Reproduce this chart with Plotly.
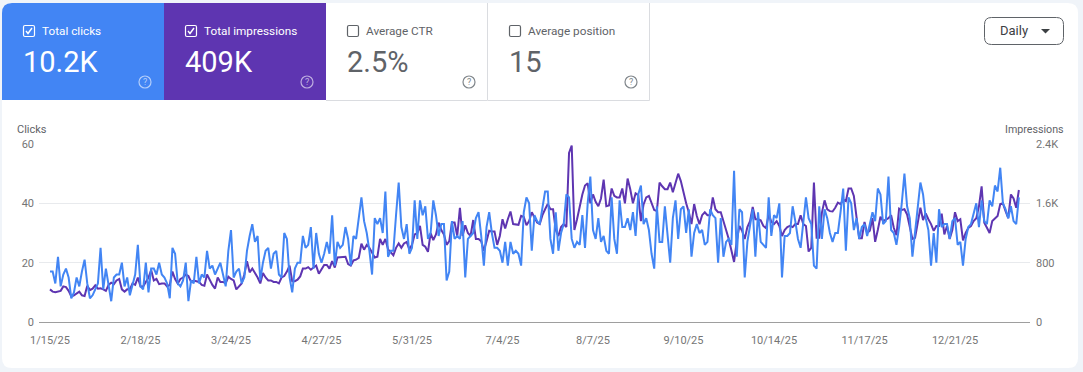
import pandas as pd
import plotly.graph_objects as go

W, H = 1083, 372
M = 30

clicks = [
 17,17,13,22,12,16,18,15,8,10,
 15,12,17,21,13,8,9,11,13,25,
 11,18,12,7,15,16,16,20,12,15,
 9,13,16,26,12,11,20,10,18,18,
 16,20,16,15,13,8,25,23,13,12,
 14,20,7,14,13,22,13,16,15,24,
 18,19,16,18,20,16,12,24,31,15,
 17,18,13,15,24,29,33,27,29,14,
 20,24,25,18,23,24,16,15,30,28,
 15,10,18,20,20,29,25,26,32,18,
 30,23,20,23,27,23,36,19,27,25,
 26,32,28,19,29,28,36,42,34,30,
 24,16,35,33,35,30,44,22,24,24,
 36,47,32,28,33,23,25,41,28,41,
 36,39,28,30,41,36,29,33,33,14,
 17,34,28,29,28,34,15,28,29,30,
 35,37,29,19,32,37,30,25,25,24,
 20,27,19,27,23,24,23,19,37,42,
 40,24,36,34,33,38,44,44,28,23,
 37,24,30,33,43,42,28,25,27,26,
 36,25,40,49,31,28,35,27,29,24,
 23,42,28,23,41,32,32,35,31,37,
 29,43,46,33,35,31,23,18,39,27,
 27,39,29,20,35,41,28,38,39,30,
 38,22,30,33,30,31,26,27,38,36,
 35,20,35,22,27,28,26,51,22,38,
 37,15,27,33,38,22,37,27,26,25,
 42,29,36,35,40,15,29,29,30,39,
 34,28,25,33,42,35,33,19,18,39,
 28,38,35,30,27,30,30,37,45,24,
 42,40,31,35,28,32,33,29,33,37,
 34,45,43,33,34,49,31,30,26,32,
 40,50,39,35,22,31,40,47,43,35,
 31,19,30,20,38,32,33,33,28,34,
 35,26,27,19,28,32,33,37,40,32,
 41,34,33,41,39,46,44,52,40,38,
 35,39,34,33,42,
]

impressions = [
 440,410,400,405,420,480,470,420,345,360,
 385,410,360,350,490,430,450,495,450,455,
 440,420,500,530,510,560,580,440,410,440,
 440,520,500,600,480,480,540,600,700,560,
 580,510,520,520,480,500,680,580,520,580,
 600,640,620,540,560,550,540,500,490,640,
 560,500,450,600,540,540,520,610,580,560,
 440,480,520,640,820,670,720,660,600,520,
 660,600,560,560,540,540,520,600,620,680,
 760,550,550,570,615,720,720,740,705,735,
 760,650,720,770,770,720,820,735,870,870,
 870,880,780,760,830,840,865,1055,975,1040,
 1000,935,870,880,1120,1040,1120,980,935,900,
 1000,1060,1000,1060,1080,980,1040,1180,1200,1295,
 1040,1015,945,1200,1105,1180,1340,1240,1180,1040,
 1090,1340,1340,1160,1540,1160,1305,1200,1160,1375,
 1120,1120,1090,960,1090,1230,1220,1220,1040,1160,
 1385,1260,1385,1490,1320,1310,1310,1430,1415,1305,
 1360,1480,1400,1340,1320,1440,1520,1590,1520,1520,
 1240,1160,1280,1320,1280,2280,2380,1240,1385,1560,
 1720,1840,1870,1600,1720,1620,1560,1665,1920,1560,
 1570,1800,1700,1680,1680,1800,1600,1935,1790,1600,
 1735,1710,1360,1585,1680,1700,1600,1510,1495,1880,
 1830,1790,1790,1880,1750,1880,2000,1900,1745,1600,
 1480,1320,1590,1430,1320,1440,1480,1440,1440,1680,
 1520,1480,1480,1340,1240,1120,980,810,1090,1295,
 1230,1120,1280,1360,1550,1385,1385,1370,1295,1265,
 1450,1350,1320,1360,1295,1160,1240,1280,1295,1280,
 1320,1320,1440,1320,1295,950,1000,1880,1135,1135,
 1475,1640,1520,1495,1490,1540,1610,1590,1650,1630,
 1800,1800,1700,1450,1130,1130,1350,1200,1230,1400,
 1080,1240,1420,1360,1380,1400,1440,1270,1170,1530,
 1510,1520,1450,1300,1120,1135,1360,1540,1375,1465,
 1385,1320,1230,1295,1295,1460,1180,1295,1120,1240,
 1480,1360,1385,1100,1200,1270,1295,1360,1400,1560,
 1830,1340,1270,1200,1360,1400,1430,1590,1600,1495,
 1400,1720,1665,1540,1780,
]

dates = pd.date_range("2025-01-15", periods=len(clicks))

x_tick_dates = ["2025-01-15","2025-02-18","2025-03-24","2025-04-27","2025-05-31","2025-07-04",
                "2025-08-07","2025-09-10","2025-10-14","2025-11-17","2025-12-21"]
x_tick_labels = ["1/15/25","2/18/25","3/24/25","4/27/25","5/31/25","7/4/25",
                 "8/7/25","9/10/25","10/14/25","11/17/25","12/21/25"]
left_ticks = [0, 20, 40, 60]
right_ticks = [0, 800, 1600, 2400]
right_labels = ["0", "800", "1.6K", "2.4K"]

tile_titles = ["Total clicks", "Total impressions", "Average CTR", "Average position"]
tile_values = ["10.2K", "409K", "2.5%", "15"]
tile_fills = ["#4285f4", "#5e35b1", "#ffffff", "#ffffff"]

BLUE, PURPLE = "#4285f4", "#5e35b1"
GREY, AXIS = "#5f6368", "#757575"
FONT = "Roboto"

px = lambda v: (v - M) / (W - 2 * M)
py = lambda v: 1 - (v - M) / (H - 2 * M)

fig = go.Figure()
fig.add_trace(go.Scatter(x=dates, y=impressions, mode="lines", line=dict(color=PURPLE, width=2),
                         yaxis="y", name="Impressions", showlegend=False))
fig.add_trace(go.Scatter(x=dates, y=clicks, mode="lines", line=dict(color=BLUE, width=2),
                         yaxis="y2", name="Clicks", showlegend=False))

shapes, annos = [], []

def rrect(x0, y0, x1, y1, r, fill, line=None, lw=1):
    p = (f"M {px(x0+r)} {py(y0)} L {px(x1-r)} {py(y0)} Q {px(x1)} {py(y0)} {px(x1)} {py(y0+r)} "
         f"L {px(x1)} {py(y1-r)} Q {px(x1)} {py(y1)} {px(x1-r)} {py(y1)} L {px(x0+r)} {py(y1)} "
         f"Q {px(x0)} {py(y1)} {px(x0)} {py(y1-r)} L {px(x0)} {py(y0+r)} Q {px(x0)} {py(y0)} {px(x0+r)} {py(y0)} Z")
    shapes.append(dict(type="path", xref="paper", yref="paper", path=p, fillcolor=fill,
                       line=dict(color=line or fill, width=lw if line else 0), layer="below"))

def text(x, y, s, size, color, anchor="left"):
    annos.append(dict(xref="paper", yref="paper", x=px(x), y=py(y), text=s, showarrow=False,
                      xanchor=anchor, yanchor="middle", font=dict(family=FONT, size=size, color=color),
                      borderpad=0, xshift=0, yshift=0))

# card
rrect(2, 3, 1078, 368, 10, "#ffffff")

# tiles
for i in range(4):
    x0 = 2 + 162 * i
    x1 = x0 + 162
    on = i < 2
    if on:
        if i == 0:
            p = (f"M {px(x0+10)} {py(3)} L {px(x1)} {py(3)} L {px(x1)} {py(100)} L {px(x0)} {py(100)} "
                 f"L {px(x0)} {py(13)} Q {px(x0)} {py(3)} {px(x0+10)} {py(3)} Z")
            shapes.append(dict(type="path", xref="paper", yref="paper", path=p, fillcolor=tile_fills[i],
                               line=dict(width=0), layer="below"))
        else:
            shapes.append(dict(type="rect", xref="paper", yref="paper", x0=px(x0), x1=px(x1), y0=py(100), y1=py(3),
                               fillcolor=tile_fills[i], line=dict(width=0), layer="below"))
    else:
        shapes.append(dict(type="path", xref="paper", yref="paper",
                           path=f"M {px(x0)} {py(100.5)} L {px(x1-.5)} {py(100.5)} L {px(x1-.5)} {py(3)}",
                           line=dict(color="#dadce0", width=1), layer="below"))
    fg = "#ffffff" if on else GREY
    # checkbox
    bx, by = x0 + 21, 25
    rrect(bx + .5, by + .5, bx + 11.5, by + 11.5, 1.5, "rgba(0,0,0,0)", line=fg, lw=1.2)
    if on:
        shapes.append(dict(type="path", xref="paper", yref="paper",
                           path=f"M {px(bx+3)} {py(by+6)} L {px(bx+5)} {py(by+8.5)} L {px(bx+9)} {py(by+3)}",
                           line=dict(color="#ffffff", width=1.4)))
    text(x0 + 38.5, 31, tile_titles[i], 11.75, fg)
    text(x0 + 20, 62, tile_values[i], 29, fg)
    # help icon
    hc = "rgba(255,255,255,0.6)" if on else "#80868b"
    cx, cy = x0 + 143, 82
    shapes.append(dict(type="circle", xref="paper", yref="paper", x0=px(cx - 6), x1=px(cx + 6),
                       y0=py(cy + 6), y1=py(cy - 6), line=dict(color=hc, width=1.2)))
    text(cx, cy, "?", 9, hc, "center")

# dropdown
rrect(984.5, 17.5, 1063.5, 44.5, 7, "#ffffff", line="#5f6368", lw=1)
text(1014, 31, "Daily", 13, "#3c4043", "center")
shapes.append(dict(type="path", xref="paper", yref="paper",
                   path=f"M {px(1041)} {py(29)} L {px(1050)} {py(29)} L {px(1045.5)} {py(33.5)} Z",
                   fillcolor="#3c4043", line=dict(width=0)))

# axis titles
text(15.5, 129, "Clicks", 11, GREY)
text(1064.5, 129, "Impressions", 10.7, GREY, "right")

day_px = 90.5 / 34
x_lo = dates[0] + pd.Timedelta(days=(39 - 50) / day_px)
x_hi = dates[0] + pd.Timedelta(days=(1030 - 50) / day_px)

fig.update_layout(
    width=W, height=H, autosize=False,
    margin=dict(l=M, r=M, t=M, b=M, pad=0),
    paper_bgcolor="#f0f4f9", plot_bgcolor="rgba(0,0,0,0)",
    font=dict(family=FONT, size=11, color=AXIS),
    showlegend=False, hovermode=False,
    shapes=shapes, annotations=annos,
    xaxis=dict(domain=[px(39), px(1030)], type="date", range=[x_lo, x_hi],
               tickmode="array", tickvals=x_tick_dates, ticktext=x_tick_labels,
               showgrid=False, zeroline=False, showline=False, ticks="", ticklabelstandoff=10,
               tickfont=dict(family=FONT, size=11, color=AXIS)),
    yaxis=dict(domain=[py(322), py(144)], range=[0, 2400], side="right", anchor="x",
               tickmode="array", tickvals=right_ticks, ticktext=right_labels,
               gridcolor="#e8eaed", gridwidth=1, zeroline=True, zerolinecolor="#9e9e9e", zerolinewidth=1,
               showline=False, ticks="", ticklabelstandoff=5, tickfont=dict(family=FONT, size=11, color=AXIS)),
    yaxis2=dict(domain=[py(322), py(144)], range=[0, 60], side="left", overlaying="y", anchor="x",
                tickmode="array", tickvals=left_ticks,
                showgrid=False, zeroline=False, showline=False, ticks="", ticklabelstandoff=4,
                tickfont=dict(family=FONT, size=11, color=AXIS)),
)

fig.write_html("out.html", config=dict(displayModeBar=False, responsive=False),
               default_width=f"{W}px", default_height=f"{H}px",
               post_script=("document.documentElement.style.margin='0';document.body.style.margin='0';"
                            "document.body.style.padding='0';document.body.style.background='#f0f4f9';"
                            "document.body.style.overflow='hidden';"))
